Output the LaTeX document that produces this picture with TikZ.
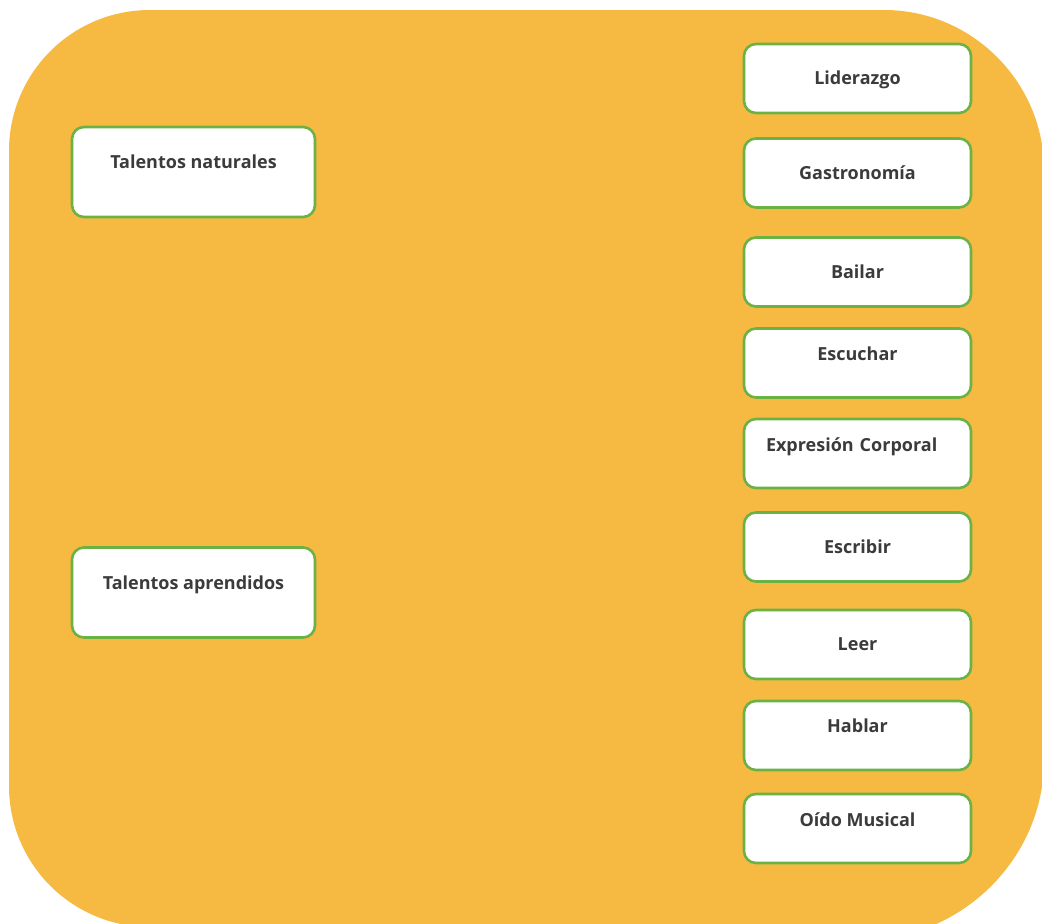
\documentclass[tikz,border=0pt]{standalone}
\usepackage{fontspec}
\setmainfont{Open Sans}
\definecolor{bgorange}{HTML}{F6BA43}
\definecolor{boxgreen}{HTML}{6BB244}
\definecolor{txtgray}{HTML}{3B3B3B}
\tikzset{
  tbox/.style={draw=boxgreen, line width=2.6pt, fill=white, rounded corners=12pt,
    inner sep=0pt, text height=12pt, text=txtgray,
    font=\fontsize{18}{21}\selectfont\bfseries},
  leftbox/.style={tbox, minimum width=243pt, minimum height=90pt},
  rightbox/.style={tbox, minimum width=227pt, minimum height=69pt},
}
\begin{document}
\begin{tikzpicture}[x=1pt,y=-1pt]
\useasboundingbox (0,0) rectangle (1042,924);
\fill[white] (0,0) rectangle (1042,924);
\begin{scope}
\clip (0,0) rectangle (1042,924);
\fill[bgorange] (9,151) .. controls (9,73) and (72,10) .. (150,10)
  -- (884,10) .. controls (972,10) and (1044,82) .. (1044,170)
  -- (1044,760) .. controls (1044,859) and (961,940) .. (862,940)
  -- (150,927) .. controls (72,927) and (9,864) .. (9,786) -- cycle;
\end{scope}
% left boxes
\node[leftbox, text depth=20pt] (nat) at (193.5,172) {Talentos naturales};
\node[leftbox, text depth=19pt] (apr) at (193.5,592.5) {Talentos aprendidos};
% right boxes
\node[rightbox, text depth=0pt] (lid) at (857.5,78.5) {Liderazgo};
\node[rightbox, text depth=0pt] (gas) at (857.5,173) {Gastronomía};
\node[rightbox, text depth=0pt] (bai) at (857.5,272) {Bailar};
\node[rightbox, text depth=18pt] (esc) at (857.5,363) {Escuchar};
\node[rightbox, text depth=17pt, text width=183pt, align=left] (exp) at (857.5,453.5) {Expresión Corporal};
\node[rightbox, text depth=0pt] (escr) at (857.5,547) {Escribir};
\node[rightbox, text depth=0pt] (lee) at (857.5,644.5) {Leer};
\node[rightbox, text depth=19pt] (hab) at (857.5,735.5) {Hablar};
\node[rightbox, text depth=17pt] (oid) at (857.5,828.5) {Oído Musical};
\end{tikzpicture}
\end{document}
